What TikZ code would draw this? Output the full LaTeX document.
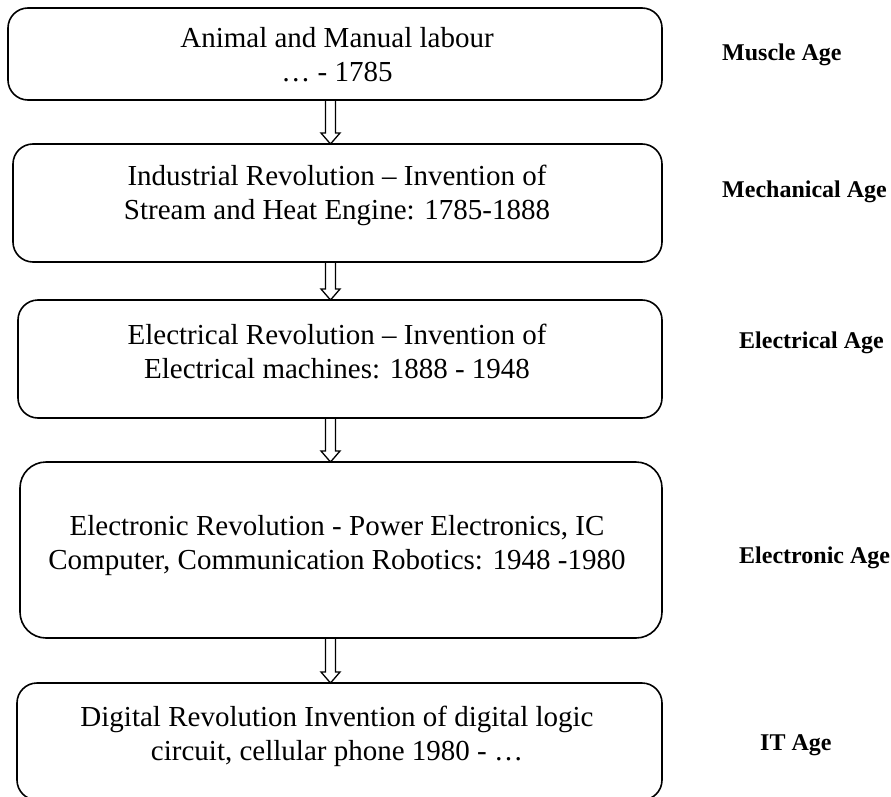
\documentclass[tikz,border=0pt]{standalone}
\usepackage{fontspec}
\setmainfont{Liberation Serif}
\usetikzlibrary{calc}
\begin{document}
\begin{tikzpicture}[x=1pt,y=-1pt,
  agebox/.style={draw, line width=1.6pt, rounded corners=20pt, inner sep=0pt, outer sep=0pt},
  boxtext/.style={font=\fontsize{29}{34}\selectfont, align=center, inner sep=0pt},
  agelabel/.style={font=\fontsize{24}{28}\selectfont\bfseries, anchor=west, inner sep=0pt},
  hollow/.style={draw, line width=1.3pt, line join=miter}]
\useasboundingbox (0,0) rectangle (891,797);
% boxes
\node[agebox, minimum width=654pt, minimum height=92pt] (b1) at (335,54) {};
\node[agebox, minimum width=649pt, minimum height=118pt] (b2) at (337.5,203) {};
\node[agebox, minimum width=644pt, minimum height=118pt] (b3) at (340,359) {};
\node[agebox, minimum width=642pt, minimum height=176pt, rounded corners=26pt] (b4) at (341,550) {};
\node[agebox, minimum width=645pt, minimum height=117pt] (b5) at (339.5,741.5) {};
% texts
\node[boxtext] (t1) at (337,55) {Animal and Manual labour\\… - 1785};
\node[boxtext] (t2) at (337,195) {Industrial Revolution – Invention of\\Stream and Heat Engine: 1785-1888};
\node[boxtext] (t3) at (337,351) {Electrical Revolution – Invention of\\Electrical machines: 1888 - 1948};
\node[boxtext] (t4) at (337,546) {Electronic Revolution - Power Electronics, IC\\Computer, Communication Robotics: 1948 -1980};
\node[boxtext] (t5) at (337,736) {Digital Revolution Invention of digital logic\\circuit, cellular phone 1980 - …};
% labels
\node[agelabel] (l1) at (722,55) {Muscle Age};
\node[agelabel] (l2) at (722,192) {Mechanical Age};
\node[agelabel] (l3) at (739,343) {Electrical Age};
\node[agelabel] (l4) at (739,558) {Electronic Age};
\node[agelabel] (l5) at (760,745) {IT Age};
% arrows
\coordinate (ax) at (330.5,0);
\foreach \a/\b in {b1/b2,b2/b3,b3/b4,b4/b5}{
  \draw[hollow] let \p1=(\a.south -| ax), \p2=(\b.north -| ax) in
    (\x1-5pt,\y1) -- (\x1-5pt,\y2+11pt) -- (\x1-9.5pt,\y2+11pt) -- (\x1,\y2)
    -- (\x1+9.5pt,\y2+11pt) -- (\x1+5pt,\y2+11pt) -- (\x1+5pt,\y1);
}
\end{tikzpicture}
\end{document}
